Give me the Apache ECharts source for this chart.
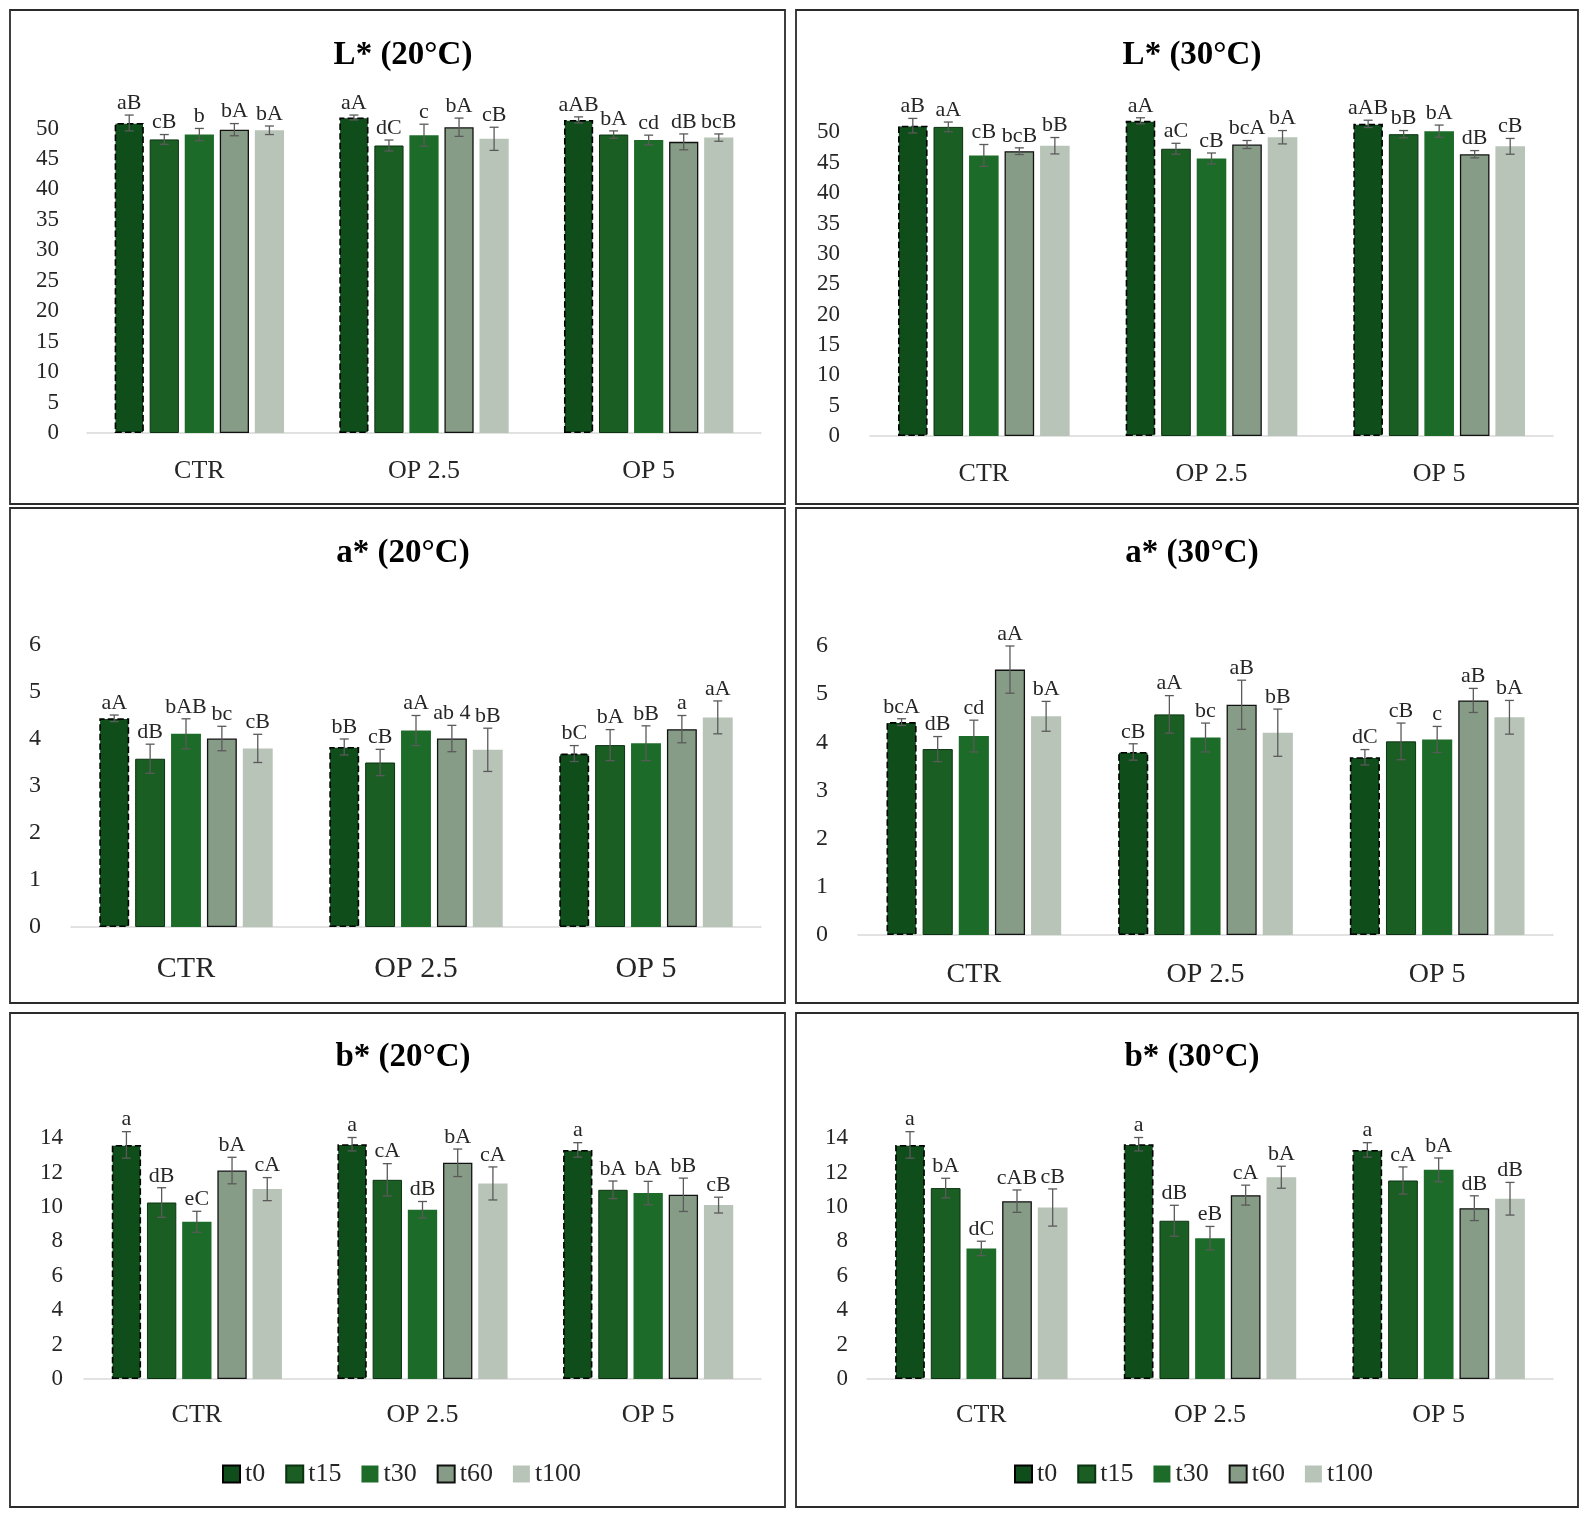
<!DOCTYPE html>
<html>
<head>
<meta charset="utf-8">
<script src="https://cdn.jsdelivr.net/npm/echarts@6/dist/echarts.min.js"></script>
<style>
  html, body { margin: 0; padding: 0; background: #fff; }
  #chart { width: 1587px; height: 1516px; }
</style>
</head>
<body>
<div id="chart"></div>
<script>
// categories and time points
const categories = ["CTR", "OP 2.5", "OP 5"];
const times = ["t0", "t15", "t30", "t60", "t100"];

// tick labels
const L_ticks = [0, 5, 10, 15, 20, 25, 30, 35, 40, 45, 50];
const a_ticks = [0, 1, 2, 3, 4, 5, 6];
const b_ticks = [0, 2, 4, 6, 8, 10, 12, 14];

// values: one row per time point, columns CTR / OP 2.5 / OP 5
const L20_mean = [[50.9, 51.8, 51.4], [48.2, 47.2, 49.0], [49.0, 48.9, 48.1], [49.8, 50.2, 47.8], [49.7, 48.3, 48.5]];
const L20_sd = [[1.3, 0.4, 0.5], [0.8, 0.9, 0.6], [1.0, 1.8, 0.8], [1.0, 1.5, 1.3], [0.7, 1.9, 0.6]];
const L20_letters = [["aB", "aA", "aAB"], ["cB", "dC", "bA"], ["b", "c", "cd"], ["bA", "bA", "dB"], ["bA", "cB", "bcB"]];

const L30_mean = [[51.1, 51.9, 51.4], [50.9, 47.3, 49.7], [46.2, 45.7, 50.2], [46.9, 48.0, 46.4], [47.8, 49.2, 47.7]];
const L30_sd = [[1.2, 0.5, 0.6], [0.8, 0.9, 0.6], [1.8, 0.9, 1.0], [0.55, 0.66, 0.6], [1.35, 1.1, 1.3]];
const L30_letters = [["aB", "aA", "aAB"], ["aA", "aC", "bB"], ["cB", "cB", "bA"], ["bcB", "bcA", "dB"], ["bB", "bA", "cB"]];

const a20_mean = [[4.44, 3.83, 3.69], [3.58, 3.50, 3.87], [4.11, 4.18, 3.91], [4.01, 4.01, 4.21], [3.80, 3.77, 4.46]];
const a20_sd = [[0.07, 0.17, 0.17], [0.31, 0.28, 0.33], [0.32, 0.32, 0.37], [0.26, 0.28, 0.29], [0.30, 0.46, 0.35]];
const a20_letters = [["aA", "bB", "bC"], ["dB", "cB", "bA"], ["bAB", "aA", "bB"], ["bc", "ab 4", "a"], ["cB", "bB", "aA"]];

const a30_mean = [[4.42, 3.80, 3.69], [3.86, 4.58, 4.02], [4.13, 4.10, 4.06], [5.51, 4.78, 4.87], [4.54, 4.20, 4.52]];
const a30_sd = [[0.07, 0.17, 0.16], [0.26, 0.39, 0.38], [0.33, 0.30, 0.27], [0.49, 0.51, 0.25], [0.31, 0.49, 0.35]];
const a30_letters = [["bcA", "cB", "dC"], ["dB", "aA", "cB"], ["cd", "bc", "c"], ["aA", "aB", "aB"], ["bA", "bB", "bA"]];

const b20_mean = [[13.61, 13.65, 13.32], [10.26, 11.58, 11.0], [9.14, 9.84, 10.81], [12.12, 12.57, 10.71], [11.04, 11.37, 10.11]];
const b20_sd = [[0.77, 0.39, 0.42], [0.86, 0.94, 0.51], [0.61, 0.48, 0.68], [0.77, 0.80, 0.97], [0.67, 0.96, 0.46]];
const b20_letters = [["a", "a", "a"], ["dB", "cA", "bA"], ["eC", "dB", "bA"], ["bA", "bA", "bB"], ["cA", "cA", "cB"]];

const b30_mean = [[13.61, 13.65, 13.32], [11.10, 9.20, 11.54], [7.59, 8.19, 12.16], [10.34, 10.69, 9.93], [9.97, 11.73, 10.48]];
const b30_sd = [[0.77, 0.39, 0.42], [0.57, 0.9, 0.79], [0.42, 0.68, 0.69], [0.65, 0.58, 0.72], [1.08, 0.64, 0.95]];
const b30_letters = [["a", "a", "a"], ["bA", "dB", "cA"], ["dC", "eB", "bA"], ["cAB", "cA", "dB"], ["cB", "bA", "dB"]];

const FONT = "Liberation Serif";
const BAR_W = 0.13;
const BAR_GAP = 0.2;

// bar look per time point
const barStyles = [
  { color: "#0f4d1b", borderColor: "#000", borderWidth: 1.6, borderType: "dashed" },
  { color: "#1b5e23", borderColor: "#0b3311", borderWidth: 1 },
  { color: "#1d6b28", borderWidth: 0 },
  { color: "#879c87", borderColor: "#111", borderWidth: 1.3 },
  { color: "#b9c4b9", borderWidth: 0 }
];

// panel layout
const panels = [
  { title: "L* (20°C)", mean: L20_mean, sd: L20_sd, lab: L20_letters, ticks: L_ticks, max: 55, interval: 5,
    left: 87, right: 761, top: 98, bottom: 433, tx: 398, ty: 34, tickSize: 23, catSize: 26, catMargin: 25, yMargin: 28 },
  { title: "L* (30°C)", mean: L30_mean, sd: L30_sd, lab: L30_letters, ticks: L_ticks, max: 55, interval: 5,
    left: 870, right: 1553, top: 102, bottom: 436, tx: 1187, ty: 34, tickSize: 23, catSize: 26, catMargin: 25, yMargin: 30 },
  { title: "a* (20°C)", mean: a20_mean, sd: a20_sd, lab: a20_letters, ticks: a_ticks, max: 6, interval: 1,
    left: 71, right: 761, top: 645, bottom: 927, tx: 398, ty: 532, tickSize: 24, catSize: 30, catMargin: 27, yMargin: 30 },
  { title: "a* (30°C)", mean: a30_mean, sd: a30_sd, lab: a30_letters, ticks: a_ticks, max: 6, interval: 1,
    left: 858, right: 1553, top: 646, bottom: 935, tx: 1187, ty: 532, tickSize: 24, catSize: 28, catMargin: 26, yMargin: 30 },
  { title: "b* (20°C)", mean: b20_mean, sd: b20_sd, lab: b20_letters, ticks: b_ticks, max: 15, interval: 2,
    left: 84, right: 761, top: 1121, bottom: 1379, tx: 398, ty: 1036, tickSize: 23, catSize: 26, catMargin: 23, yMargin: 21 },
  { title: "b* (30°C)", mean: b30_mean, sd: b30_sd, lab: b30_letters, ticks: b_ticks, max: 15, interval: 2,
    left: 867, right: 1553, top: 1121, bottom: 1379, tx: 1187, ty: 1036, tickSize: 23, catSize: 26, catMargin: 23, yMargin: 19 }
];

const grid = [], xAxis = [], yAxis = [], series = [], title = [];

panels.forEach((p, pi) => {
  grid.push({ left: p.left, top: p.top, width: p.right - p.left, height: p.bottom - p.top });
  title.push({
    text: p.title, left: p.tx, top: p.ty, textAlign: "center",
    textStyle: { fontFamily: FONT, fontSize: 33, fontWeight: "bold", color: "#000" }
  });
  xAxis.push({
    type: "category", gridIndex: pi, data: categories,
    axisTick: { show: false },
    axisLine: { lineStyle: { color: "#d9d9d9", width: 1.5 } },
    axisLabel: { fontFamily: FONT, fontSize: p.catSize, color: "#262626", margin: p.catMargin }
  });
  yAxis.push({
    type: "value", gridIndex: pi, min: 0, max: p.max, interval: p.interval,
    splitLine: { show: false }, axisLine: { show: false }, axisTick: { show: false },
    axisLabel: {
      fontFamily: FONT, fontSize: p.tickSize, color: "#262626", margin: p.yMargin,
      formatter: v => (p.ticks.indexOf(v) >= 0 ? String(v) : "")
    }
  });

  times.forEach((t, k) => {
    series.push({
      name: t, type: "bar", xAxisIndex: pi, yAxisIndex: pi,
      barWidth: (BAR_W * 100) + "%", barGap: (BAR_GAP * 100) + "%",
      itemStyle: barStyles[k],
      data: p.mean[k]
    });
  });
  times.forEach((t, k) => {
    series.push({
      type: "custom", xAxisIndex: pi, yAxisIndex: pi, z: 5, clip: false,
      data: p.mean[k].map((v, ci) => [ci, v, p.sd[k][ci]]),
      renderItem: (params, api) => {
        const ci = api.value(0), v = api.value(1), e = api.value(2);
        const band = api.size([1, 0])[0];
        const w = band * BAR_W;
        const off = (k - 2) * (w + w * BAR_GAP);
        const hi = api.coord([ci, v + e]);
        const lo = api.coord([ci, v - e]);
        const x = hi[0] + off;
        const cap = 4.5;
        const st = { stroke: "#5a5a5a", lineWidth: 1.3 };
        return {
          type: "group",
          children: [
            { type: "line", shape: { x1: x, y1: hi[1], x2: x, y2: lo[1] }, style: st },
            { type: "line", shape: { x1: x - cap, y1: hi[1], x2: x + cap, y2: hi[1] }, style: st },
            { type: "line", shape: { x1: x - cap, y1: lo[1], x2: x + cap, y2: lo[1] }, style: st },
            {
              type: "text", x: x, y: hi[1] - 1,
              style: {
                text: p.lab[k][params.dataIndex], fill: "#262626",
                font: "22px '" + FONT + "'",
                align: "center", verticalAlign: "bottom",
                textAlign: "center", textVerticalAlign: "bottom"
              }
            }
          ]
        };
      }
    });
  });
});

// panel frames
const frames = [
  [10, 10, 775, 494], [796, 10, 782, 494],
  [10, 508, 775, 495], [796, 508, 782, 495],
  [10, 1013, 775, 494], [796, 1013, 782, 494]
];
const graphic = frames.map(f => ({
  type: "rect", shape: { x: f[0], y: f[1], width: f[2], height: f[3] },
  style: { fill: "none", stroke: "#2b2b2b", lineWidth: 1.8 }, silent: true
}));

const legendBase = {
  data: times, top: 1456, itemWidth: 17, itemHeight: 17, itemGap: 20, icon: "rect",
  textStyle: { fontFamily: FONT, fontSize: 26, color: "#262626" }
};

const chart = echarts.init(document.getElementById("chart"));
chart.setOption({
  animation: false,
  backgroundColor: "#fff",
  title: title,
  grid: grid,
  xAxis: xAxis,
  yAxis: yAxis,
  legend: [
    Object.assign({}, legendBase, { left: 217 }),
    Object.assign({}, legendBase, { left: 1009 })
  ],
  graphic: graphic,
  series: series
});
</script>
</body>
</html>
